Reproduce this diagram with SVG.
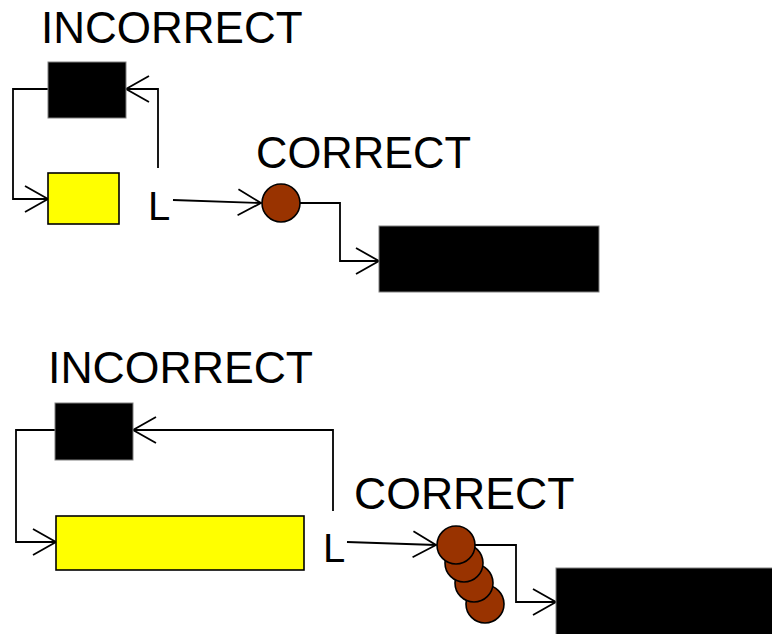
<svg xmlns="http://www.w3.org/2000/svg" width="772" height="634" viewBox="0 0 772 634">
<defs>
<marker id="arr" markerWidth="28" markerHeight="30" refX="25" refY="15" orient="auto" markerUnits="userSpaceOnUse">
<path d="M2,2 L25,15 L2,28" fill="none" stroke="#000" stroke-width="1.8"/>
</marker>
<style>
.lbl{font-family:"Liberation Sans",Arial,sans-serif;fill:#000}
.con{fill:none;stroke:#000;stroke-width:1.8}
.blk{fill:#000;stroke:#808080;stroke-width:1}
.yel{fill:#ffff00;stroke:#000;stroke-width:1.6}
.dot{fill:#993300;stroke:#000;stroke-width:1.6}
</style>
</defs>
<rect width="772" height="634" fill="#fff"/>
<g id="labels">
<text class="lbl" x="41" y="43" font-size="44">INCORRECT</text>
<text class="lbl" x="256" y="168" font-size="43.5">CORRECT</text>
<text class="lbl" x="48" y="383" font-size="44.6">INCORRECT</text>
<text class="lbl" x="354" y="509" font-size="44.6">CORRECT</text>
</g>
<g id="connectors">
<path class="con" d="M48,89 H13 V199 H48" marker-end="url(#arr)"/>
<path class="con" d="M158,168 V89 H126" marker-end="url(#arr)"/>
<path class="con" d="M173,200 L261,203" marker-end="url(#arr)"/>
<path class="con" d="M300,203 H340 V261 H379" marker-end="url(#arr)"/>
<path class="con" d="M55,430 H16 V542 H56" marker-end="url(#arr)"/>
<path class="con" d="M333,511 V430 H133" marker-end="url(#arr)"/>
<path class="con" d="M347,542 L436,545" marker-end="url(#arr)"/>
<path class="con" d="M474,545 H516 V602 H556" marker-end="url(#arr)"/>
</g>
<g id="top-incorrect-black"><rect class="blk" x="48" y="62" width="78" height="56"/></g>
<g id="top-incorrect-yellow"><rect class="yel" x="48" y="173" width="71" height="51"/></g>
<g id="top-L"><text class="lbl" x="148" y="220" font-size="40">L</text></g>
<g id="top-correct-dot"><circle class="dot" cx="281" cy="203" r="19"/></g>
<g id="top-correct-black"><rect class="blk" x="379" y="226" width="220" height="66"/></g>
<g id="bottom-incorrect-black"><rect class="blk" x="55" y="403" width="78" height="57"/></g>
<g id="bottom-incorrect-yellow"><rect class="yel" x="56" y="516" width="248" height="54"/></g>
<g id="bottom-L"><text class="lbl" x="323" y="562" font-size="40">L</text></g>
<g id="bottom-correct-dots">
<circle class="dot" cx="485" cy="604" r="19"/>
<circle class="dot" cx="474" cy="583" r="19"/>
<circle class="dot" cx="464" cy="563" r="19"/>
<circle class="dot" cx="456" cy="545" r="19"/>
</g>
<g id="bottom-correct-black"><rect class="blk" x="556" y="568" width="220" height="70"/></g>
</svg>
